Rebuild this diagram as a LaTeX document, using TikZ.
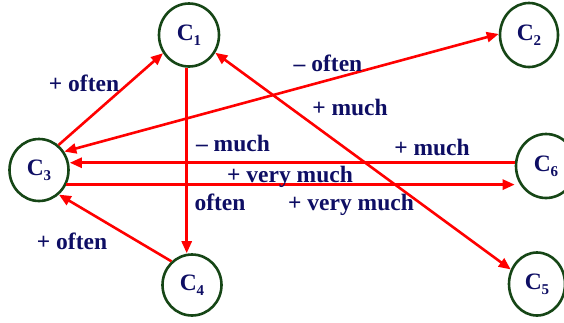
\documentclass[tikz,border=0pt]{standalone}
\usepackage{fontspec}
\setmainfont{Liberation Serif}
\usetikzlibrary{shapes.geometric,arrows.meta}
\definecolor{navy}{RGB}{14,14,100}
\definecolor{dkgreen}{RGB}{22,70,22}
\newcommand\cname[1]{C\raisebox{-5pt}{\fontsize{15}{15}\selectfont #1}}
\begin{document}
\begin{tikzpicture}[x=1pt,y=-1pt,
  cnode/.style={ellipse,draw=dkgreen,line width=2.6pt,inner sep=0pt,fill=white,
    text=navy,font=\fontsize{23.5}{26}\selectfont\bfseries},
  lbl/.style={anchor=base,inner sep=0pt,text=navy,font=\fontsize{23.5}{26}\selectfont\bfseries},
  rel/.style={draw=red,line width=2.6pt,-{Triangle[length=12pt,width=10pt]}},
  birel/.style={draw=red,line width=2.6pt,{Triangle[length=12pt,width=10pt]}-{Triangle[length=12pt,width=10pt]}}]
\useasboundingbox (0,0) rectangle (564,322);
\node[cnode,minimum width=60pt,minimum height=63pt] (c1) at (189,35) {\cname{1}};
\node[cnode,minimum width=58pt,minimum height=64pt] (c2) at (529,35) {\cname{2}};
\node[cnode,minimum width=59pt,minimum height=62pt] (c3) at (39,170) {\cname{3}};
\node[cnode,minimum width=59pt,minimum height=61pt] (c4) at (192,285) {\cname{4}};
\node[cnode,minimum width=56pt,minimum height=63pt] (c5) at (537,284) {\cname{5}};
\node[cnode,minimum width=60pt,minimum height=64pt] (c6) at (546,166) {\cname{6}};
% connectors
\draw[rel] (c3.52) -- (c1.215);
\draw[rel] (c1.266) -- (c1.266 |- c4.north);
\draw[birel] (c3.36) -- (c2.178);
\draw[birel] (c1.326) -- (c5.151);
\draw[rel] (c6.174) -- (c6.174 -| c3.east);
\draw[rel] (c3.332) -- (c3.332 -| c6.west);
\draw[rel] (c4.131) -- (c3.309);
% labels
\node[lbl] (l1) at (84,91) {+ often};
\node[lbl] (l2) at (328,71) {– often};
\node[lbl] (l3) at (350,115) {+ much};
\node[lbl] (l4) at (233,151) {– much};
\node[lbl] (l5) at (432,155) {+ much};
\node[lbl] (l6) at (290,182) {+ very much};
\node[lbl] (l7) at (220,210) {often};
\node[lbl] (l8) at (351,210) {+ very much};
\node[lbl] (l9) at (72,249) {+ often};
\end{tikzpicture}
\end{document}
